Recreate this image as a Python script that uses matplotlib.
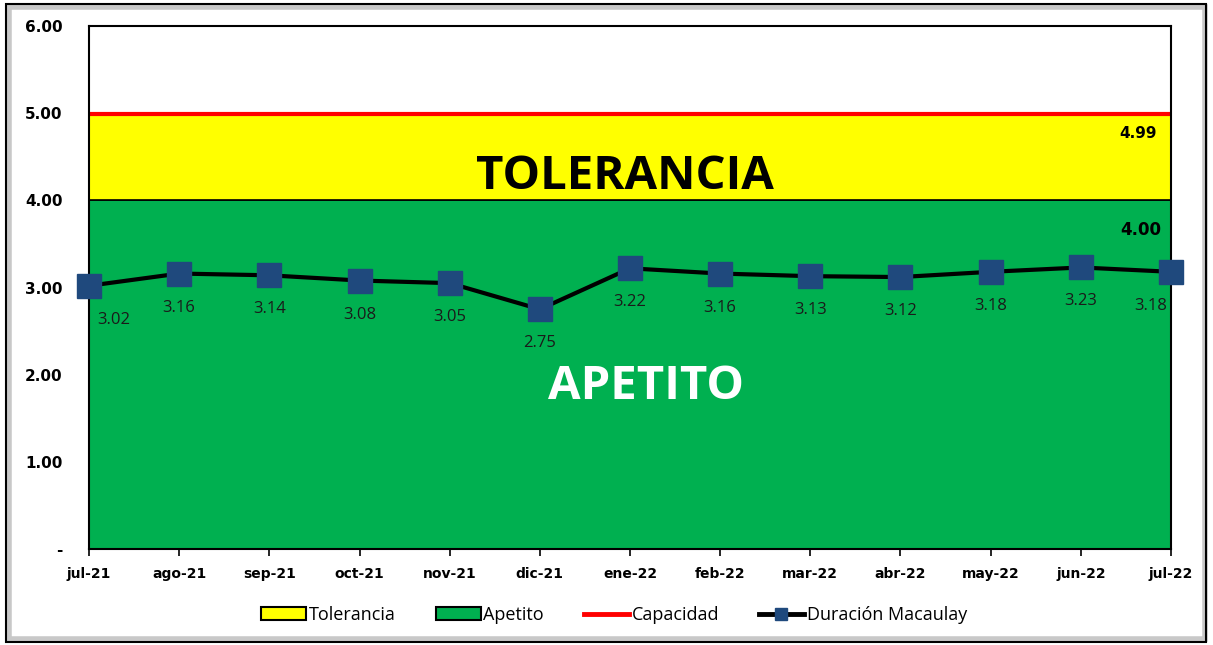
import matplotlib.pyplot as plt
from matplotlib.patches import Rectangle, Patch
from matplotlib.lines import Line2D

months = ["jul-21", "ago-21", "sep-21", "oct-21", "nov-21", "dic-21", "ene-22",
          "feb-22", "mar-22", "abr-22", "may-22", "jun-22", "jul-22"]
duracion = [3.02, 3.16, 3.14, 3.08, 3.05, 2.75, 3.22, 3.16, 3.13, 3.12, 3.18, 3.23, 3.18]
apetito = [4.00] * len(months)
capacidad = [4.99] * len(months)
y_ticks = [0, 1, 2, 3, 4, 5, 6]
y_labels = ["-", "1.00", "2.00", "3.00", "4.00", "5.00", "6.00"]

GREEN = "#00B050"
YELLOW = "#FFFF00"
RED = "#FF0000"
NAVY = "#1F497D"
SANS = ["Open Sans", "DejaVu Sans"]

fig = plt.figure(figsize=(12.13, 6.45), dpi=100)
ax = fig.add_axes([89 / 1213, 96 / 645, 1082 / 1213, 523 / 645])

x = list(range(len(months)))
ax.fill_between(x, 0, apetito, color=GREEN, edgecolor="black", lw=1.2, zorder=1)
ax.fill_between(x, apetito, capacidad, color=YELLOW, edgecolor="black", lw=1.2, zorder=1)
ax.plot(x, capacidad, color=RED, lw=3, zorder=2)
ax.plot(x, duracion, color="black", lw=3, marker="s", ms=17, mfc=NAVY, mec=NAVY,
        zorder=3, clip_on=False)

last = len(duracion) - 1
for i, v in enumerate(duracion):
    dx = 0.27 if i == 0 else (-0.22 if i == last else 0)
    ax.text(i + dx, v - 0.39, f"{v:.2f}", ha="center", va="center",
            fontsize=12, family=SANS, color="#1a1a1a", zorder=4)

ax.text(11.63, capacidad[-1] - 0.22, f"{capacidad[-1]:.2f}", ha="center", va="center",
        fontsize=11, fontweight="bold", family="DejaVu Sans")
ax.text(11.67, apetito[-1] - 0.34, f"{apetito[-1]:.2f}", ha="center", va="center",
        fontsize=12, fontweight="bold", family="DejaVu Sans")

ax.text(5.94, 4.27, "TOLERANCIA", ha="center", va="center", fontsize=34,
        fontweight="bold", family=SANS, color="black")
ax.text(6.18, 1.86, "APETITO", ha="center", va="center", fontsize=34,
        fontweight="bold", family=SANS, color="white")

ax.set_xlim(0, len(months) - 1)
ax.set_ylim(0, 6)
ax.set_xticks(x)
ax.set_xticklabels(months, fontsize=10, fontweight="bold", family="DejaVu Sans")
ax.set_yticks(y_ticks)
ax.set_yticklabels(y_labels, fontsize=11, fontweight="bold", family="DejaVu Sans")
ax.tick_params(axis="y", length=0, pad=19)
ax.tick_params(axis="x", length=5, width=1.2, pad=8)
for s in ax.spines.values():
    s.set_linewidth(1.5)
    s.set_color("black")

handles = [
    Patch(facecolor=YELLOW, edgecolor="black", lw=1.5, label="Tolerancia"),
    Patch(facecolor=GREEN, edgecolor="black", lw=1.5, label="Apetito"),
    Line2D([], [], color=RED, lw=3.5, label="Capacidad"),
    Line2D([], [], color="black", lw=3.5, marker="s", ms=9, mfc=NAVY, mec=NAVY,
           label="Duración Macaulay"),
]
fig.legend(handles=handles, loc="center", bbox_to_anchor=(614 / 1213, 1 - 615 / 645),
           ncol=4, frameon=False, prop={"family": SANS, "size": 13},
           handlelength=2.5, handletextpad=0.15, columnspacing=2.2)

# outer chart frame with soft shadow
fig.patches.append(Rectangle((9 / 1213, 6 / 645), 1196 / 1213, 632 / 645,
                             transform=fig.transFigure, fill=False,
                             edgecolor="#C8C8C8", lw=4, zorder=0))
fig.patches.append(Rectangle((6 / 1213, 3 / 645), 1200 / 1213, 638 / 645,
                             transform=fig.transFigure, fill=False,
                             edgecolor="black", lw=1.5, zorder=0))

fig.savefig("out.png", dpi=100)
